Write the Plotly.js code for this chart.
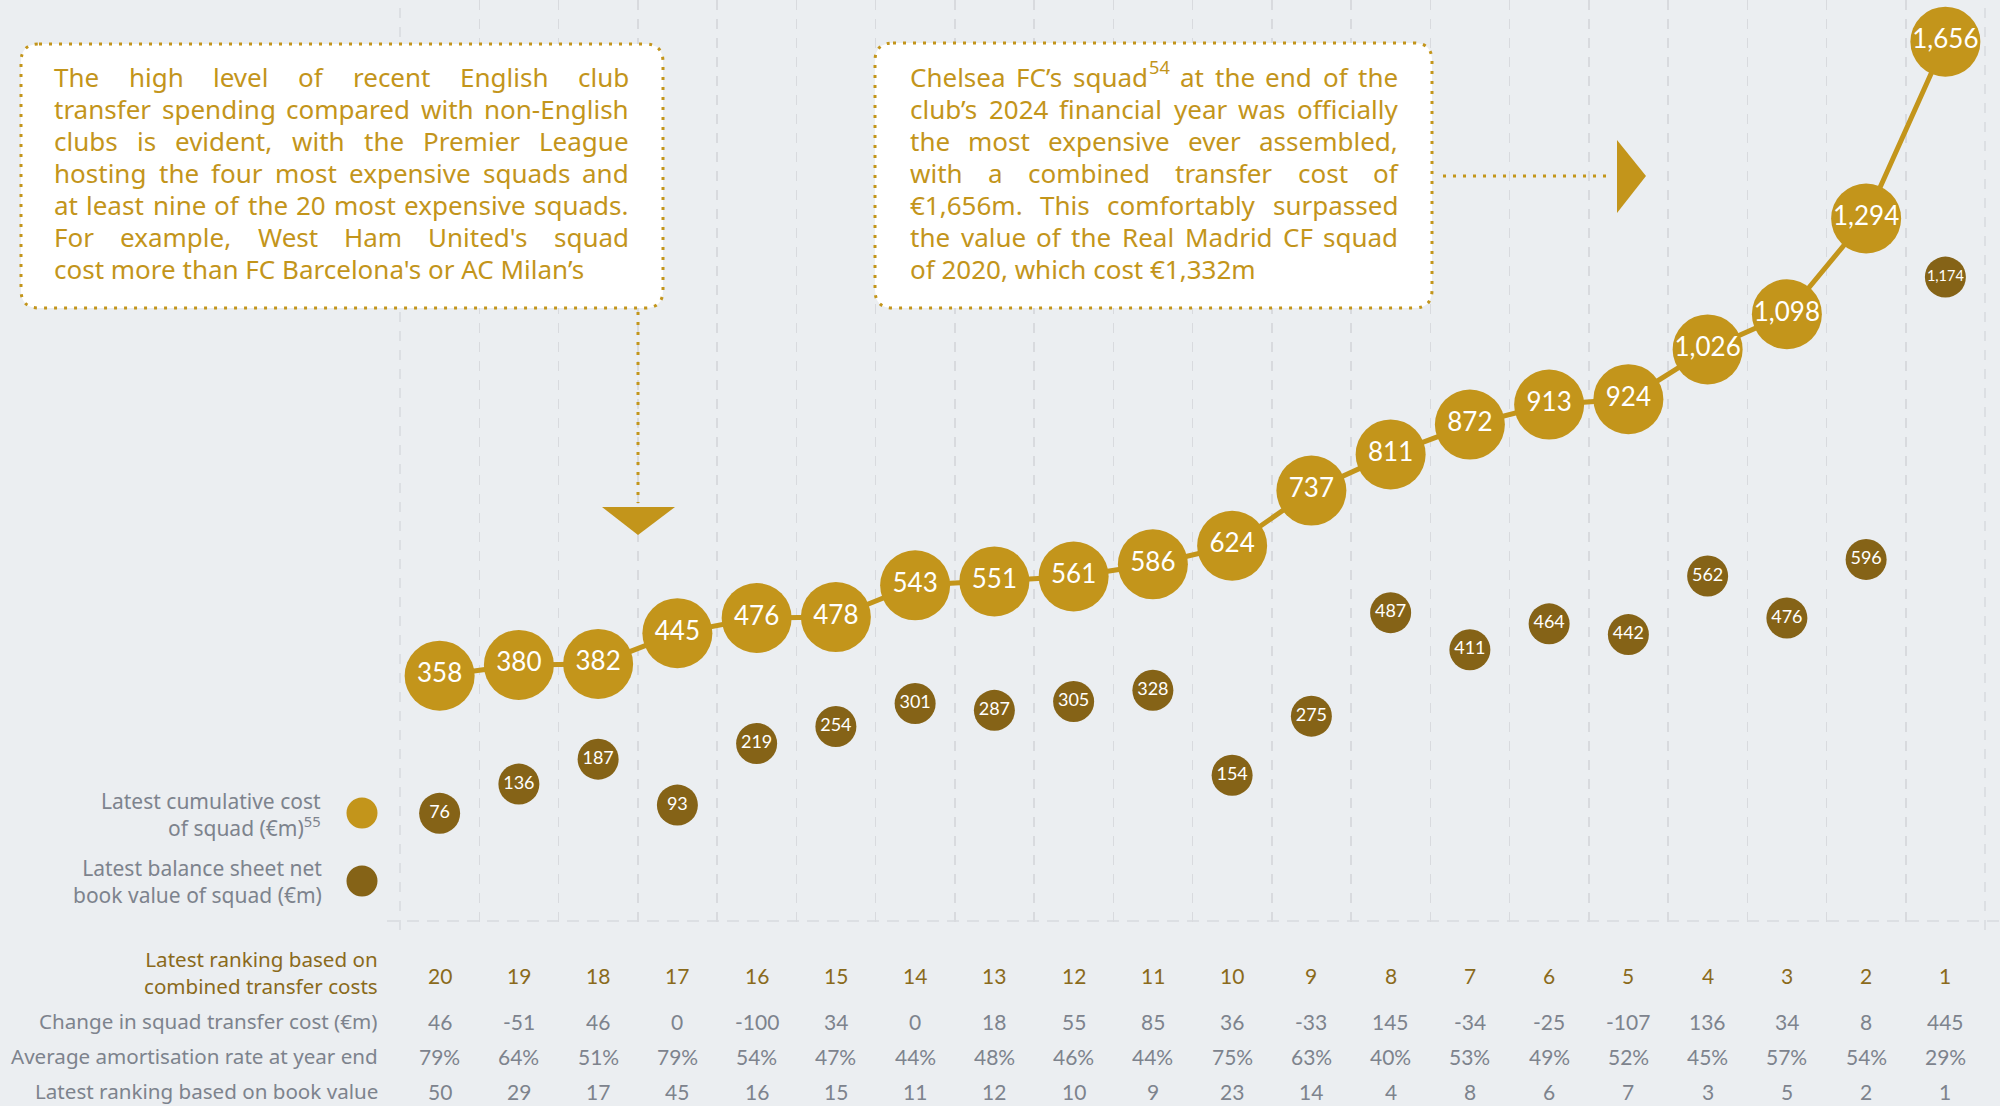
<!DOCTYPE html>
<html>
<head>
<meta charset="utf-8">
<script src="https://cdn.plot.ly/plotly-3.0.1.min.js"></script>
<style>html,body{margin:0;padding:0;background:#EBEEF1;}</style>
</head>
<body>
<div id="chart" style="width:2000px;height:1106px;"></div>
<script>
// ---------------- DATA ----------------
const rankCost = [20,19,18,17,16,15,14,13,12,11,10,9,8,7,6,5,4,3,2,1];
const cumulativeCost = [358,380,382,445,476,478,543,551,561,586,624,737,811,872,913,924,1026,1098,1294,1656];
const bookValue = [76,136,187,93,219,254,301,287,305,328,154,275,487,411,464,442,562,476,596,1174];
const changeCost = [46,-51,46,0,-100,34,0,18,55,85,36,-33,145,-34,-25,-107,136,34,8,445];
const amortRate = [79,64,51,79,54,47,44,48,46,44,75,63,40,53,49,52,45,57,54,29];
const rankBook = [50,29,17,45,16,15,11,12,10,9,23,14,4,8,6,7,3,5,2,1];

const rowLabels = [
  'Latest ranking based on<br>combined transfer costs',
  'Change in squad transfer cost (€m)',
  'Average amortisation rate at year end',
  'Latest ranking based on book value'
];
const legendLabels = [
  'Latest cumulative cost<br>of squad (€m)<sup>55</sup>',
  'Latest balance sheet net<br>book value of squad (€m)'
];
const note1Lines = [
  'The high level of recent English club',
  'transfer spending compared with non-English',
  'clubs is evident, with the Premier League',
  'hosting the four most expensive squads and',
  'at least nine of the 20 most expensive squads.',
  "For example, West Ham United's squad",
  "cost more than FC Barcelona's or AC Milan’s"
];
const note2Lines = [
  'Chelsea FC’s squad<sup>54</sup> at the end of the',
  'club’s 2024 financial year was officially',
  'the most expensive ever assembled,',
  'with a combined transfer cost of',
  '€1,656m. This comfortably surpassed',
  'the value of the Real Madrid CF squad',
  'of 2020, which cost €1,332m'
];

// ---------------- STYLE ----------------
const TFONT = '"Noto Sans", Lato, sans-serif';
const NFONT = 'Lato, "Noto Sans", sans-serif';
const GOLD = '#C3951B';
const DARK = '#856317';
const BROWN = '#8A6A1B';
const GRAY = '#7D838D';
const BG = '#EBEEF1';
const GRID = '#D8DADE';

const W = 2000, H = 1106;
const L = 400, R = 1985, T = 0, B = 930;
const px = x => (x - L) / (R - L);
const py = y => (B - y) / (B - T);

const cats = rankCost.map(String);

const ctx = document.createElement('canvas').getContext('2d');
function plainWidth(s, size) {
  ctx.font = size + 'px "Noto Sans"';
  return ctx.measureText(s).width;
}
function splitSup(word) {
  const m = word.match(/^(.*?)<sup>(.*?)<\/sup>(.*)$/);
  return m ? {base: m[1], sup: m[2]} : {base: word, sup: ''};
}
function measure(word, size) {
  const p = splitSup(word);
  return plainWidth(p.base, size) + (p.sup ? plainWidth(p.sup, size * 0.7) + 1 : 0);
}

const annotations = [];
const shapes = [];

function fitSize(lines, width, maxSize) {
  let s = maxSize;
  lines.slice(0, -1).forEach(line => {
    const words = line.split(' ');
    const nat = words.reduce((a, w) => a + measure(w, 100), 0) + (words.length - 1) * plainWidth(' ', 100) * 1.05;
    s = Math.min(s, 100 * width / nat);
  });
  return s;
}

function addWord(word, x, yc, size) {
  const p = splitSup(word);
  annotations.push({xref:'paper', yref:'paper', x:px(x), y:py(yc), xanchor:'left', yanchor:'middle',
    text: p.base, showarrow:false, borderpad:0, borderwidth:0, font:{family:TFONT, size:size, color:GOLD}});
  if (p.sup) {
    annotations.push({xref:'paper', yref:'paper', x:px(x + plainWidth(p.base, size) + 1), y:py(yc - size * 0.36),
      xanchor:'left', yanchor:'middle', text: p.sup, showarrow:false, borderpad:0, borderwidth:0,
      font:{family:TFONT, size:size * 0.7, color:GOLD}});
  }
}

function justified(lines, x0, x1, y0, lh, size) {
  lines.forEach((line, i) => {
    const yc = y0 + i * lh;
    const words = line.split(' ');
    const widths = words.map(w => measure(w, size));
    const total = widths.reduce((a, b) => a + b, 0);
    const last = i === lines.length - 1;
    const gap = last ? plainWidth(' ', size) : (x1 - x0 - total) / (words.length - 1);
    if (last && line.indexOf('<sup>') < 0) {
      annotations.push({xref:'paper', yref:'paper', x:px(x0), y:py(yc), xanchor:'left', yanchor:'middle',
        text: line, showarrow:false, borderpad:0, borderwidth:0, font:{family:TFONT, size:size, color:GOLD}});
      return;
    }
    let x = x0;
    words.forEach((w, k) => {
      addWord(w, x, yc, size);
      x += widths[k] + gap;
    });
  });
}

function roundRect(x0, y0, x1, y1, r) {
  const P = (x, y) => px(x) + ',' + py(y);
  return 'M' + P(x0 + r, y0) + ' L' + P(x1 - r, y0) + ' Q' + P(x1, y0) + ' ' + P(x1, y0 + r) +
    ' L' + P(x1, y1 - r) + ' Q' + P(x1, y1) + ' ' + P(x1 - r, y1) +
    ' L' + P(x0 + r, y1) + ' Q' + P(x0, y1) + ' ' + P(x0, y1 - r) +
    ' L' + P(x0, y0 + r) + ' Q' + P(x0, y0) + ' ' + P(x0 + r, y0) + ' Z';
}
function poly(pts) {
  return 'M' + pts.map(p => px(p[0]) + ',' + py(p[1])).join(' L') + ' Z';
}

// edge grid lines (outer category boundaries)
[0, 1].forEach(xp => {
  shapes.push({type:'line', xref:'paper', yref:'paper', x0:xp, x1:xp, y0:0, y1:1, layer:'below',
    line:{color: GRID, width:1.5, dash:'10px,9px'}});
});
// baseline
shapes.push({type:'line', xref:'paper', yref:'paper', x0:px(387), x1:px(2000), y0:py(921), y1:py(921),
  line:{color: GRID, width: 1.5, dash:'12px,8px'}});

// note boxes
const dotLine = {color: GOLD, width: 3, dash: '3px,7px'};
shapes.push({type:'path', xref:'paper', yref:'paper', path: roundRect(21, 44, 663, 308, 18),
  fillcolor:'#FFFFFF', line: dotLine, layer:'above'});
shapes.push({type:'path', xref:'paper', yref:'paper', path: roundRect(875, 43, 1432, 308, 18),
  fillcolor:'#FFFFFF', line: dotLine, layer:'above'});
// connectors
shapes.push({type:'line', xref:'paper', yref:'paper', x0:px(638), x1:px(638), y0:py(312), y1:py(503), line: dotLine});
shapes.push({type:'path', xref:'paper', yref:'paper', path: poly([[602,507],[675,507],[638,535]]),
  fillcolor: GOLD, line:{width:0}});
shapes.push({type:'line', xref:'paper', yref:'paper', x0:px(1443), x1:px(1612), y0:py(176), y1:py(176), line: dotLine});
shapes.push({type:'path', xref:'paper', yref:'paper', path: poly([[1617,140],[1617,213],[1646,176]]),
  fillcolor: GOLD, line:{width:0}});
// legend dots
[[GOLD, 813], [DARK, 881]].forEach(([c, yc]) => {
  shapes.push({type:'circle', xref:'paper', yref:'paper', xsizemode:'pixel', ysizemode:'pixel',
    xanchor: px(362), yanchor: py(yc), x0:-15.5, x1:15.5, y0:-15.5, y1:15.5,
    fillcolor: c, line:{width:0}});
});

const s1 = fitSize(note1Lines, 629 - 54, 26);
const s2 = fitSize(note2Lines, 1398 - 910, 26);
const boxSize = Math.min(s1, s2);
justified(note1Lines, 54, 629, 76.8, 32.1, boxSize);
justified(note2Lines, 910, 1398, 76.8, 32.1, boxSize);

// legend texts
annotations.push({xref:'paper', yref:'paper', x:px(323), y:py(814), xanchor:'right', yanchor:'middle', align:'right',
  text: legendLabels[0], showarrow:false, font:{family:TFONT, size:21, color:GRAY}});
annotations.push({xref:'paper', yref:'paper', x:px(324), y:py(881), xanchor:'right', yanchor:'middle', align:'right',
  text: legendLabels[1], showarrow:false, font:{family:TFONT, size:21, color:GRAY}});

// table rows
const rowsY = [973, 1021, 1056, 1091];
const rowVals = [rankCost.map(String), changeCost.map(String), amortRate.map(v => v + '%'), rankBook.map(String)];
const rowColors = [BROWN, GRAY, GRAY, GRAY];
rowLabels.forEach((lab, r) => {
  annotations.push({xref:'paper', yref:'paper', x:px(379), y:py(rowsY[r]), xanchor:'right', yanchor:'middle', align:'right',
    text: lab, showarrow:false, borderpad:0, font:{family:TFONT, size:20.6, color:rowColors[r]}});
  rowVals[r].forEach((v, i) => {
    annotations.push({xref:'x', yref:'paper', x: i, y: py(rowsY[r] + (r === 0 ? 2 : 0)), xanchor:'center', yanchor:'middle',
      text: v, showarrow:false, font:{family:NFONT, size:21, color:rowColors[r]}});
  });
});

const traces = [
  {
    type:'scatter', x: cats, y: bookValue, mode:'markers+text',
    marker:{size:41, color:DARK, line:{width:0}},
    texttemplate:'%{y:,}', textposition:'middle center',
    textfont:{family:NFONT, color:'#FFFFFF', size: bookValue.map(v => v >= 1000 ? 14.5 : 18)},
    hoverinfo:'skip', cliponaxis:false
  },
  {
    type:'scatter', x: cats, y: cumulativeCost, mode:'lines+markers+text',
    line:{color:GOLD, width:5},
    marker:{size:70, color:GOLD, line:{width:0}},
    texttemplate:'%{y:,}', textposition:'middle center',
    textfont:{family:NFONT, color:'#FFFFFF', size:26},
    hoverinfo:'skip', cliponaxis:false
  }
];

const layout = {
  width: W, height: H,
  margin: {l: L, r: W - R, t: T, b: H - B, pad: 0},
  paper_bgcolor: BG, plot_bgcolor: BG,
  font: {family: TFONT},
  showlegend: false,
  xaxis: {
    type:'category', categoryorder:'array', categoryarray: cats,
    range:[-0.5, 19.5], tickson:'boundaries', ticks:'', showticklabels:false,
    showgrid:true, gridcolor: GRID, gridwidth:1.5, griddash:'10px,9px',
    zeroline:false, showline:false, fixedrange:true
  },
  yaxis: {
    range:[-162.8, 1741.4], showgrid:false, zeroline:false, showticklabels:false, ticks:'', showline:false, fixedrange:true
  },
  shapes: shapes,
  annotations: annotations
};

Plotly.newPlot('chart', traces, layout, {displayModeBar:false, staticPlot:true});
</script>
</body>
</html>
